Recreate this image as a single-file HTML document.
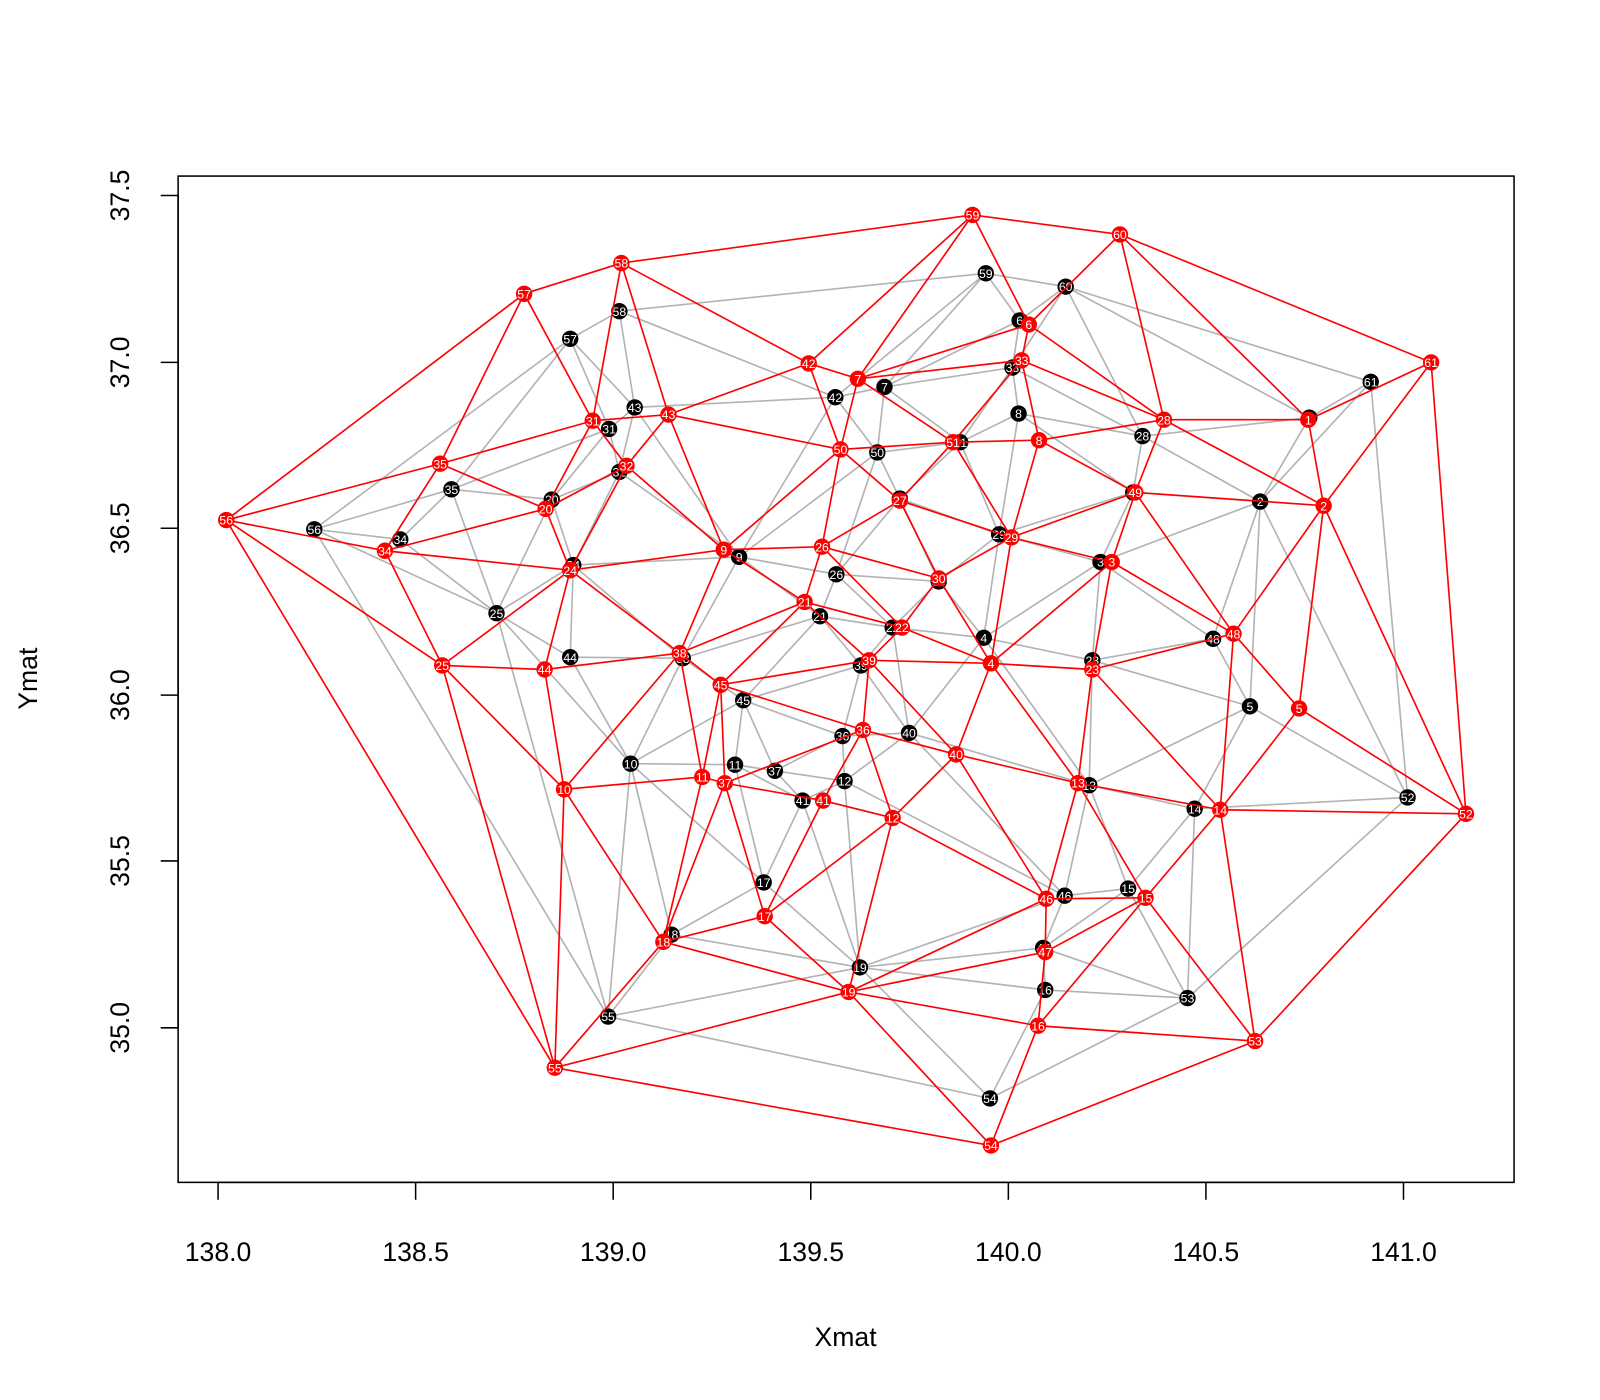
<!DOCTYPE html>
<html><head><meta charset="utf-8"><style>
html,body{margin:0;padding:0;background:#fff}
svg{display:block;font-family:"Liberation Sans",sans-serif}
</style></head><body>
<svg id="s" width="1600" height="1400" viewBox="0 0 1600 1400" xmlns="http://www.w3.org/2000/svg">
<g transform="scale(1.0237)">
<rect x="174" y="172" width="1305" height="983" fill="none" stroke="#000" stroke-width="1.5"/>
<g stroke="#000" stroke-width="1.5">
<line x1="213" y1="1155" x2="1371" y2="1155"/>
<line x1="213" y1="1155" x2="213" y2="1172"/><line x1="406" y1="1155" x2="406" y2="1172"/><line x1="599" y1="1155" x2="599" y2="1172"/><line x1="792" y1="1155" x2="792" y2="1172"/><line x1="985" y1="1155" x2="985" y2="1172"/><line x1="1178" y1="1155" x2="1178" y2="1172"/><line x1="1371" y1="1155" x2="1371" y2="1172"/>
<line x1="174" y1="191" x2="174" y2="1004"/>
<line x1="174" y1="191" x2="157" y2="191"/><line x1="174" y1="354" x2="157" y2="354"/><line x1="174" y1="516" x2="157" y2="516"/><line x1="174" y1="679" x2="157" y2="679"/><line x1="174" y1="841" x2="157" y2="841"/><line x1="174" y1="1004" x2="157" y2="1004"/>
</g>
<g font-size="26" text-anchor="middle" fill="#000">
<text x="213" y="1232">138.0</text><text x="406" y="1232">138.5</text><text x="599" y="1232">139.0</text><text x="792" y="1232">139.5</text><text x="985" y="1232">140.0</text><text x="1178" y="1232">140.5</text><text x="1371" y="1232">141.0</text>
<text transform="translate(126,191) rotate(-90)">37.5</text><text transform="translate(126,354) rotate(-90)">37.0</text><text transform="translate(126,516) rotate(-90)">36.5</text><text transform="translate(126,679) rotate(-90)">36.0</text><text transform="translate(126,841) rotate(-90)">35.5</text><text transform="translate(126,1004) rotate(-90)">35.0</text>
<text x="826" y="1315">Xmat</text>
<text transform="translate(36,663) rotate(-90)">Ymat</text>
</g>
<g id="gl"></g><g id="gp"></g><g id="rl"></g><g id="rp"></g>
</g>
</svg>
<script>
var R={1:[1278,410],2:[1293,494],3:[1086,549],4:[968,648],5:[1269,692],6:[1005,317],7:[838,370],8:[1015,430],9:[707,537],10:[551,771],11:[686,759],12:[872,799],13:[1053,765],14:[1192,791],15:[1119,877],16:[1014,1002],17:[747,895],18:[648,920],19:[829,969],20:[533,497],21:[786,588],22:[881,613],23:[1067,654],24:[557,557],25:[432,650],26:[803,534],27:[879,489],28:[1137,410],29:[988,525],30:[917,565],31:[579,411],32:[612,455],33:[998,352],34:[376,538],35:[430,453],36:[843,713],37:[708,765],38:[664,638],39:[849,645],40:[934,737],41:[804,782],42:[790,355],43:[653,405],44:[532,654],45:[704,669],46:[1022,878],47:[1021,930],48:[1205,619],49:[1109,481],50:[821,439],51:[931,432],52:[1432,795],53:[1226,1017],54:[968,1119],55:[542,1043],56:[221,508],57:[512,287],58:[607,257],59:[950,210],60:[1094,229],61:[1398,354]};
var B={1:[1279,408],2:[1231,490],3:[1075,549],4:[961,623],5:[1221,690],6:[996,313],7:[864,378],8:[995,404],9:[722,544],10:[616,746],11:[718,747],12:[825,763],13:[1064,767],14:[1167,790],15:[1102,868],16:[1021,967],17:[746,862],18:[656,913],19:[840,945],20:[539,488],21:[801,602],22:[872,613],23:[1067,645],24:[560,552],25:[485,599],26:[817,561],27:[879,487],28:[1116,426],29:[976,522],30:[917,568],31:[595,419],32:[605,461],33:[989,359],34:[391,527],35:[441,478],36:[823,719],37:[757,753],38:[667,643],39:[841,650],40:[888,716],41:[784,782],42:[816,388],43:[620,398],44:[557,642],45:[726,684],46:[1040,875],47:[1019,926],48:[1185,624],49:[1107,481],50:[857,442],51:[938,432],52:[1375,779],53:[1160,975],54:[967,1073],55:[594,993],56:[307,517],57:[557,331],58:[605,304],59:[963,267],60:[1041,280],61:[1339,373]};
var NS="http://www.w3.org/2000/svg";
function el(t,a,p){var e=document.createElementNS(NS,t);for(var k in a)e.setAttribute(k,a[k]);p.appendChild(e);return e;}
function delaunay(P){
 var pts=P.map(function(p){return[(p[0]-213)/386,-(p[1])/325.2];});
 var n=pts.length;pts.push([-100,-100],[100,-100],[0,100]);
 var tris=[[n,n+1,n+2]];
 function cc(t){var a=pts[t[0]],b=pts[t[1]],c=pts[t[2]];var d=2*(a[0]*(b[1]-c[1])+b[0]*(c[1]-a[1])+c[0]*(a[1]-b[1]));
  var ux=((a[0]*a[0]+a[1]*a[1])*(b[1]-c[1])+(b[0]*b[0]+b[1]*b[1])*(c[1]-a[1])+(c[0]*c[0]+c[1]*c[1])*(a[1]-b[1]))/d;
  var uy=((a[0]*a[0]+a[1]*a[1])*(c[0]-b[0])+(b[0]*b[0]+b[1]*b[1])*(a[0]-c[0])+(c[0]*c[0]+c[1]*c[1])*(b[0]-a[0]))/d;
  return[ux,uy,(a[0]-ux)*(a[0]-ux)+(a[1]-uy)*(a[1]-uy)];}
 for(var i=0;i<n;i++){var p=pts[i];var bad=[],keep=[];
  tris.forEach(function(t){var c=cc(t);if((p[0]-c[0])*(p[0]-c[0])+(p[1]-c[1])*(p[1]-c[1])<c[2])bad.push(t);else keep.push(t);});
  var ec={};bad.forEach(function(t){[[t[0],t[1]],[t[1],t[2]],[t[2],t[0]]].forEach(function(e){var k=Math.min(e[0],e[1])+"_"+Math.max(e[0],e[1]);ec[k]=ec[k]?[ec[k][0],ec[k][1]+1]:[e,1];});});
  for(var k in ec)if(ec[k][1]==1)keep.push([ec[k][0][0],ec[k][0][1],i]);
  tris=keep;}
 var E={};tris.forEach(function(t){[[t[0],t[1]],[t[1],t[2]],[t[2],t[0]]].forEach(function(e){if(e[0]<n&&e[1]<n)E[Math.min(e[0],e[1])+"_"+Math.max(e[0],e[1])]=[e[0],e[1]];});});
 return Object.keys(E).map(function(k){return E[k];});
}
function draw(M,lg,pg,col,fill){
 var ids=Object.keys(M),P=ids.map(function(i){return M[i];});
 delaunay(P).forEach(function(e){var a=P[e[0]],b=P[e[1]];el("line",{x1:a[0],y1:a[1],x2:b[0],y2:b[1],stroke:col,"stroke-width":1.6},lg);});
 ids.forEach(function(i){var p=M[i];el("circle",{cx:p[0],cy:p[1],r:8,fill:fill},pg);
  var t=el("text",{x:p[0],y:p[1]+4.5,"font-size":12,fill:"#fff","text-anchor":"middle"},pg);t.textContent=i;});
}
draw(B,document.getElementById("gl"),document.getElementById("gp"),"#b3b3b3","#000");
draw(R,document.getElementById("rl"),document.getElementById("rp"),"#ff0000","#ff0000");
</script>
</body></html>
